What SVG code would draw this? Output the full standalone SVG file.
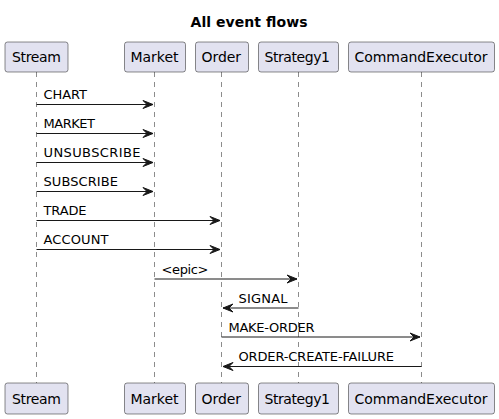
<svg xmlns="http://www.w3.org/2000/svg" width="499" height="419" viewBox="0 0 499 419">
<defs>
<style>
.box{fill:#E2E2F0;stroke:#181818;stroke-width:0.5}
.pt{font-family:"DejaVu Sans",sans-serif;font-size:14px;fill:#000}
.life{stroke:#181818;stroke-width:0.5;stroke-dasharray:5,5}
.msg{stroke:#181818;stroke-width:1}
.ml{font-family:"DejaVu Sans",sans-serif;font-size:13px;fill:#000}
.head{fill:#181818;stroke:#181818;stroke-width:1}
</style>
</defs>
<rect width="499" height="419" fill="#FFFFFF"/>
<text x="190.5" y="27" font-family="DejaVu Sans,sans-serif" font-size="14" font-weight="bold" textLength="117" lengthAdjust="spacing">All event flows</text>
<g id="lifelines">
<line class="life" x1="36.5" y1="72" x2="36.5" y2="383"/>
<line class="life" x1="154.5" y1="72" x2="154.5" y2="383"/>
<line class="life" x1="221.5" y1="72" x2="221.5" y2="383"/>
<line class="life" x1="298.5" y1="72" x2="298.5" y2="383"/>
<line class="life" x1="421.5" y1="72" x2="421.5" y2="383"/>
</g>
<g id="Stream">
<rect class="box" x="5" y="42" width="63" height="30" rx="2.5"/>
<text class="pt" x="12" y="62" textLength="49" lengthAdjust="spacing">Stream</text>
<rect class="box" x="5" y="383" width="63" height="31" rx="2.5"/>
<text class="pt" x="12" y="404" textLength="49" lengthAdjust="spacing">Stream</text>
</g>
<g id="Market">
<rect class="box" x="124.5" y="42" width="61" height="30" rx="2.5"/>
<text class="pt" x="130.5" y="62" textLength="48" lengthAdjust="spacing">Market</text>
<rect class="box" x="124.5" y="383" width="61" height="31" rx="2.5"/>
<text class="pt" x="130.5" y="404" textLength="48" lengthAdjust="spacing">Market</text>
</g>
<g id="Order">
<rect class="box" x="195.5" y="42" width="53" height="30" rx="2.5"/>
<text class="pt" x="201.5" y="62" textLength="39.5" lengthAdjust="spacing">Order</text>
<rect class="box" x="195.5" y="383" width="53" height="31" rx="2.5"/>
<text class="pt" x="201.5" y="404" textLength="39.5" lengthAdjust="spacing">Order</text>
</g>
<g id="Strategy1">
<rect class="box" x="258.5" y="42" width="80" height="30" rx="2.5"/>
<text class="pt" x="264.5" y="62" textLength="65.5" lengthAdjust="spacing">Strategy1</text>
<rect class="box" x="258.5" y="383" width="80" height="31" rx="2.5"/>
<text class="pt" x="264.5" y="404" textLength="65.5" lengthAdjust="spacing">Strategy1</text>
</g>
<g id="CommandExecutor">
<rect class="box" x="348.5" y="42" width="146" height="30" rx="2.5"/>
<text class="pt" x="354.5" y="62" textLength="133" lengthAdjust="spacing">CommandExecutor</text>
<rect class="box" x="348.5" y="383" width="146" height="31" rx="2.5"/>
<text class="pt" x="354.5" y="404" textLength="133" lengthAdjust="spacing">CommandExecutor</text>
</g>
<g id="connectors">
<line class="msg" x1="36.5" y1="104.5" x2="153" y2="104.5"/>
<polygon class="head" points="143,100.5 153,104.5 143,108.5 147,104.5"/>
<text class="ml" x="43.5" y="99" textLength="43.5" lengthAdjust="spacing">CHART</text>
<line class="msg" x1="36.5" y1="133.5" x2="153" y2="133.5"/>
<polygon class="head" points="143,129.5 153,133.5 143,137.5 147,133.5"/>
<text class="ml" x="43.5" y="128" textLength="51.5" lengthAdjust="spacing">MARKET</text>
<line class="msg" x1="36.5" y1="162.5" x2="153" y2="162.5"/>
<polygon class="head" points="143,158.5 153,162.5 143,166.5 147,162.5"/>
<text class="ml" x="43.5" y="157" textLength="97" lengthAdjust="spacing">UNSUBSCRIBE</text>
<line class="msg" x1="36.5" y1="191.5" x2="153" y2="191.5"/>
<polygon class="head" points="143,187.5 153,191.5 143,195.5 147,191.5"/>
<text class="ml" x="43.5" y="186" textLength="74.5" lengthAdjust="spacing">SUBSCRIBE</text>
<line class="msg" x1="36.5" y1="220.5" x2="220" y2="220.5"/>
<polygon class="head" points="210,216.5 220,220.5 210,224.5 214,220.5"/>
<text class="ml" x="43.5" y="215" textLength="43" lengthAdjust="spacing">TRADE</text>
<line class="msg" x1="36.5" y1="249.5" x2="220" y2="249.5"/>
<polygon class="head" points="210,245.5 220,249.5 210,253.5 214,249.5"/>
<text class="ml" x="43.5" y="244" textLength="65" lengthAdjust="spacing">ACCOUNT</text>
<line class="msg" x1="154.5" y1="279" x2="297" y2="279"/>
<polygon class="head" points="287,275 297,279 287,283 291,279"/>
<text class="ml" x="161.5" y="273.5" textLength="47" lengthAdjust="spacing">&lt;epic&gt;</text>
<line class="msg" x1="223" y1="308" x2="298.5" y2="308"/>
<polygon class="head" points="233,304 223,308 233,312 229,308"/>
<text class="ml" x="238.5" y="302.5" textLength="49" lengthAdjust="spacing">SIGNAL</text>
<line class="msg" x1="221.5" y1="337" x2="420" y2="337"/>
<polygon class="head" points="410,333 420,337 410,341 414,337"/>
<text class="ml" x="228.5" y="331.5" textLength="86" lengthAdjust="spacing">MAKE-ORDER</text>
<line class="msg" x1="223" y1="366.5" x2="421.5" y2="366.5"/>
<polygon class="head" points="233,362.5 223,366.5 233,370.5 229,366.5"/>
<text class="ml" x="238.5" y="361" textLength="155.5" lengthAdjust="spacing">ORDER-CREATE-FAILURE</text>
</g>
</svg>
